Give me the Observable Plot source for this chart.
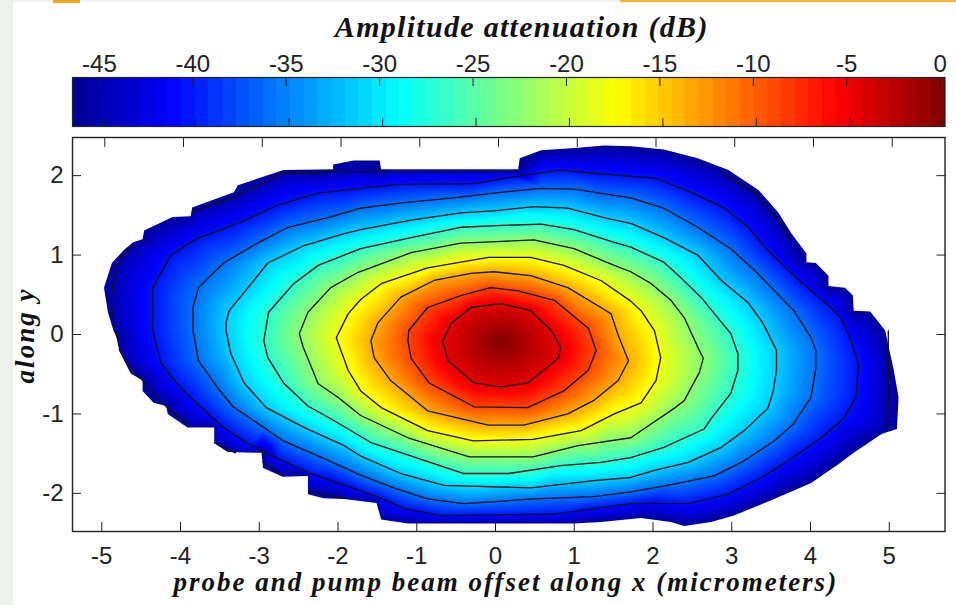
<!DOCTYPE html>
<html><head><meta charset="utf-8">
<script src="https://cdn.jsdelivr.net/npm/d3@7"></script>
<script src="https://cdn.jsdelivr.net/npm/@observablehq/plot@0.6"></script>
<style>
html,body{margin:0;padding:0;background:#fff;width:956px;height:605px;overflow:hidden}
#wrap{position:relative;width:956px;height:605px}
#wrap svg{position:absolute;left:0;background:transparent}
.deco{position:absolute}
.ttl text{letter-spacing:1.3px}
.axl text{letter-spacing:2px}
</style></head><body><div id="wrap">
<div class="deco" style="left:0;top:0;width:13px;height:605px;background:#eef0eb"></div>
<div class="deco" style="left:13px;top:0;width:943px;height:2px;background:#f1f1ee"></div>
<div class="deco" style="left:53px;top:0;width:27px;height:3px;background:#f5a623"></div>
<div class="deco" style="left:620px;top:0;width:336px;height:2px;background:#f9b233"></div>
</div>
<script>
const xDomain = [-5.41, 5.67];
const yDomain = [-2.48, 2.48];
const barDomain = [-46.6, 0.1];
const jetStops = ["#00008f","#0000ff","#00ffff","#ffff00","#ff0000","#800000"];
const jetAt = [0, 0.111, 0.375, 0.625, 0.875, 1];
const barTicks = [-45,-40,-35,-30,-25,-20,-15,-10,-5,0];
const xTicks = [-5,-4,-3,-2,-1,0,1,2,3,4,5];
const yTicks = [-2,-1,0,1,2];
const peak = [0.03,-0.08,0];
const boundaryLevel = -46;
const boundary = [-5.01,.59,-4.91,.90,-4.76,1.06,-4.64,1.16,-4.52,1.20,-4.50,1.31,-4.14,1.48,-3.91,1.49,-3.89,1.60,-3.36,1.79,-3.31,1.88,-2.73,2.07,-2.10,2.08,-2.10,2.14,-1.84,2.19,-1.51,2.19,-1.49,2.08,.25,2.08,.27,2.22,.54,2.32,1.01,2.35,1.34,2.38,1.68,2.37,2.10,2.33,2.53,2.22,2.92,2.07,3.30,1.82,3.55,1.54,3.72,1.27,3.91,1.02,3.91,.91,4.03,.90,4.19,.74,4.19,.61,4.40,.59,4.50,.49,4.51,.30,4.72,.29,4.91,.05,5.02,-.45,5.08,-.79,5.06,-1.19,4.87,-1.25,4.51,-1.49,4.32,-1.63,3.97,-1.87,3.50,-2.07,2.99,-2.28,2.70,-2.36,2.36,-2.41,2.19,-2.36,1.81,-2.31,1.30,-2.36,.96,-2.38,-1.15,-2.38,-1.49,-2.33,-1.55,-2.12,-1.96,-2.07,-2.22,-2.06,-2.42,-2.01,-2.42,-1.78,-2.74,-1.79,-2.99,-1.68,-3.01,-1.49,-3.44,-1.48,-3.61,-1.37,-3.61,-1.17,-3.95,-1.17,-4.20,-1.00,-4.22,-.90,-4.38,-.86,-4.52,-.71,-4.52,-.58,-4.67,-.49,-4.82,-.20,-4.83,-.08,-4.89,.05,-4.96,.28];
const ring1 = [-.71,-.08,-.60,.14,-.35,.34,.03,.39,.41,.30,.67,.05,.79,-.16,.76,-.30,.37,-.61,.03,-.66,-.31,-.61,-.64,-.33];
const ring2 = [-1.15,-.08,-1.14,.05,-.90,.34,-.48,.49,-.10,.59,.25,.55,.71,.43,1.14,.08,1.24,-.20,1.14,-.45,.83,-.71,.37,-.92,-.31,-.91,-.88,-.61,-1.11,-.30];
const ring3 = [-1.62,-.08,-1.53,.15,-1.24,.47,-.82,.68,-.35,.77,-.06,.79,.41,.74,.88,.59,1.30,.34,1.43,.26,1.52,-.01,1.65,-.33,1.52,-.58,1.21,-.83,.88,-1.00,.32,-1.14,-.13,-1.14,-.90,-.96,-1.37,-.58,-1.58,-.29];
const ring4 = [-2.06,-.04,-1.91,.26,-1.75,.44,-1.49,.64,-.90,.84,-.13,.97,.41,.97,.83,.87,1.30,.68,1.68,.42,1.81,.30,1.98,.05,2.06,-.29,2.00,-.58,1.81,-.86,1.47,-1.00,1.05,-1.21,.44,-1.32,-.32,-1.34,-.90,-1.21,-1.49,-.92,-1.75,-.71,-1.91,-.45];
const ring5 = [-2.53,.01,-2.42,.28,-2.13,.59,-1.79,.78,-1.11,1.03,-.48,1.15,-.03,1.17,.45,1.19,.96,1.08,1.47,.87,1.68,.79,1.94,.64,2.19,.43,2.36,.21,2.55,-.20,2.60,-.30,2.55,-.48,2.36,-.83,2.23,-.93,1.68,-1.30,1.01,-1.40,.44,-1.54,-.37,-1.54,-1.15,-1.30,-1.75,-1.02,-2.04,-.79,-2.29,-.62,-2.48,-.16];
const ring6 = [-2.98,-.08,-2.92,.28,-2.60,.64,-2.29,.87,-1.96,1.00,-1.75,1.08,-1.11,1.22,-.48,1.35,-.03,1.37,.54,1.39,.96,1.32,1.47,1.16,1.68,1.10,2.10,.91,2.32,.71,2.57,.47,2.95,.01,3.04,-.24,3.04,-.45,2.95,-.74,2.70,-1.06,2.61,-1.19,2.10,-1.42,1.68,-1.55,1.30,-1.61,.79,-1.65,.13,-1.75,-.44,-1.75,-1.20,-1.50,-1.62,-1.36,-2.13,-1.06,-2.42,-.90,-2.73,-.61,-2.93,-.29];
const ring7 = [-3.46,.15,-3.42,.30,-3.18,.59,-2.93,.90,-2.47,1.12,-1.96,1.27,-1.75,1.32,-1.11,1.44,-.48,1.53,-.03,1.56,.45,1.61,.88,1.59,1.39,1.46,1.68,1.40,2.10,1.22,2.53,1.00,2.83,.68,3.17,.40,3.36,.14,3.53,-.20,3.53,-.45,3.49,-.71,3.42,-.93,3.12,-1.21,2.83,-1.42,2.41,-1.61,1.98,-1.71,1.68,-1.80,1.21,-1.84,.41,-1.93,-.69,-1.90,-1.24,-1.75,-1.75,-1.53,-1.96,-1.40,-2.47,-1.17,-2.95,-.92,-3.23,-.61,-3.40,-.24,-3.46,.05];
const ring8 = [-3.88,.05,-3.88,.34,-3.81,.59,-3.49,.90,-3.06,1.15,-2.67,1.35,-2.13,1.48,-1.75,1.59,-1.20,1.66,-.57,1.72,-.06,1.78,.54,1.84,.96,1.83,1.68,1.72,2.10,1.59,2.53,1.35,2.95,1.08,3.25,.81,3.75,.30,3.97,-.04,4.03,-.20,4.03,-.42,3.97,-.79,3.75,-1.12,3.50,-1.34,3.12,-1.59,2.74,-1.78,2.15,-1.90,1.68,-1.98,1.21,-2.04,.45,-2.07,-.44,-2.13,-.90,-2.07,-1.33,-1.93,-1.75,-1.77,-2.22,-1.56,-2.73,-1.34,-2.98,-1.17,-3.37,-.91,-3.56,-.68,-3.81,-.33];
const ring9 = [-4.39,.05,-4.39,.59,-4.16,1.00,-3.82,1.21,-3.31,1.40,-2.80,1.63,-2.29,1.78,-1.75,1.84,-1.28,1.89,-.31,1.90,.16,1.98,.79,2.07,1.21,2.03,1.68,1.99,1.98,1.97,2.45,1.79,2.87,1.59,3.17,1.35,3.42,1.06,3.84,.66,4.22,.34,4.35,.20,4.48,-.08,4.57,-.37,4.54,-.79,4.39,-1.05,4.10,-1.30,3.68,-1.59,3.34,-1.80,2.92,-2.01,2.41,-2.13,1.68,-2.13,1.30,-2.18,.71,-2.26,-.73,-2.28,-1.20,-2.19,-1.49,-2.06,-1.75,-1.97,-2.38,-1.75,-2.80,-1.56,-3.15,-1.39,-3.49,-1.17,-3.68,-1.00,-3.87,-.83,-4.10,-.60,-4.29,-.35];
const ringLevels = [-4.5,-9,-13.5,-18,-22.5,-27,-31.5,-36,-40.5];
const rings = [ring1,ring2,ring3,ring4,ring5,ring6,ring7,ring8,ring9];
const edgeLevel = -45;
const edgeLeft = [-3.95,-1.12,-4.20,-.93,-4.52,-.58,-4.73,-.35,-4.82,-.14,-4.89,.18,-4.92,.43,-4.89,.68,-4.80,.96,-4.63,1.12];
const edgeTop = [-3.89,1.54,-3.36,1.73,-2.73,2.03,-2.10,2.05,-1.49,2.05,.25,2.05];
const edgeUpperRight = [2.83,2.04,3.25,1.78,3.50,1.50,3.72,1.19];
const edgeRight = [4.95,.05,4.95,-.37,4.96,-.79,4.92,-1.19];
const edgeLow1 = [-3.61,-1.36,-3.34,-1.49];
const edgeLow2 = [-2.99,-1.61,-2.74,-1.77];
const edgeLow3 = [-2.41,-1.97,-1.96,-2.06];
const edges = [edgeLeft,edgeTop,edgeUpperRight,edgeRight,edgeLow1,edgeLow2,edgeLow3];

const pairs = a => d3.range(0, a.length, 2).map(i => ({x:a[i], y:a[i+1]}));
const samples = [{x:peak[0],y:peak[1],v:peak[2]}];
pairs(boundary).forEach(p => samples.push({...p, v:boundaryLevel}));
rings.forEach((r,k) => pairs(r).forEach(p => samples.push({...p, v:ringLevels[k]})));
edges.forEach(r => pairs(r).forEach(p => samples.push({...p, v:edgeLevel})));

const lines = [];
rings.forEach((r,k) => { const p = pairs(r); [...p, p[0]].forEach(q => lines.push({...q, z:"r"+k})); });
edges.forEach((r,k) => pairs(r).forEach(q => lines.push({...q, z:"e"+k})));

const bp = pairs(boundary);
const corners = [
 {x:xDomain[0],y:yDomain[1]},{x:xDomain[0],y:yDomain[0]},{x:xDomain[1],y:yDomain[0]},{x:xDomain[1],y:yDomain[1]},{x:xDomain[0],y:yDomain[1]}
];
const mask = [...corners, ...bp, bp[0], corners[0]];

const color = {type:"linear", domain:jetAt.map(t => barDomain[0] + t*(barDomain[1]-barDomain[0])), range:jetStops, interpolate:"rgb"};
const hy = d => String(d);
const sans = "Liberation Sans, Arial, sans-serif";
const serif = "Liberation Serif, Times New Roman, serif";
const ink = "#222";

const cells = d3.range(64).map(i => {
  const w = (barDomain[1]-barDomain[0])/64;
  return {x1:barDomain[0]+i*w, x2:barDomain[0]+(i+1)*w, v:barDomain[0]+(i+.5)*w};
});

const barPlot = Plot.plot({
  width:956, height:132, marginLeft:72, marginRight:11.5, marginTop:77, marginBottom:6,
  x:{domain:barDomain, axis:null}, y:{axis:null}, color,
  style:{background:"transparent", overflow:"visible"},
  marks:[
    Plot.rect(cells,{x1:"x1",x2:"x2",fill:"v",shapeRendering:"crispEdges"}),
    Plot.frame({stroke:ink,strokeWidth:1.2}),
    Plot.axisX({anchor:"top",ticks:barTicks,tickSize:-8,tickPadding:14,tickFormat:hy,fontSize:24,fontFamily:sans,fill:"#222",stroke:"#222",label:null,dx:-3}),
    Plot.axisX({anchor:"bottom",ticks:barTicks,tickSize:-8,fill:"none",stroke:"#222",label:null}),
    Plot.text(["Amplitude attenuation (dB)"],{frameAnchor:"top",className:"ttl",dx:13,dy:-62,fontSize:30,fontWeight:"bold",fontStyle:"italic",fontFamily:serif,fill:"#111"})
  ]
});
barPlot.style.top="0";
document.getElementById("wrap").append(barPlot);

const mainPlot = Plot.plot({
  width:956, height:475, marginLeft:72, marginRight:11.5, marginTop:7, marginBottom:74,
  x:{domain:xDomain, axis:null}, y:{domain:yDomain, axis:null}, color,
  style:{background:"transparent", overflow:"visible"},
  marks:[
    Plot.raster(samples,{x:"x",y:"y",fill:"v",interpolate:"barycentric",pixelSize:1}),
    Plot.line(mask,{x:"x",y:"y",fill:"white",stroke:"none"}),
    Plot.line(lines,{x:"x",y:"y",z:"z",stroke:"#111",strokeWidth:1.3}),
    Plot.frame({stroke:ink,strokeWidth:1.4}),
    Plot.axisX({anchor:"bottom",ticks:xTicks,tickSize:-9,tickPadding:24,tickFormat:hy,fontSize:24,fontFamily:sans,fill:"#222",stroke:"#222",label:null,dx:-3}),
    Plot.axisX({anchor:"top",ticks:xTicks,tickSize:-9,fill:"none",stroke:"#222",label:null}),
    Plot.axisY({anchor:"left",ticks:yTicks,tickSize:-9,tickPadding:18,tickFormat:hy,fontSize:24,fontFamily:sans,fill:"#222",stroke:"#222",label:null}),
    Plot.axisY({anchor:"right",ticks:yTicks,tickSize:-9,fill:"none",stroke:"#222",label:null}),
    Plot.text(["probe and pump beam offset along x (micrometers)"],{frameAnchor:"bottom",className:"axl",dx:-3,dy:59,fontSize:27,fontWeight:"bold",fontStyle:"italic",fontFamily:serif,fill:"#111"}),
    Plot.text(["along y"],{frameAnchor:"left",className:"axl",textAnchor:"middle",dx:-47,dy:1,rotate:-90,fontSize:27,fontWeight:"bold",fontStyle:"italic",fontFamily:serif,fill:"#111"})
  ]
});
mainPlot.style.top="130px";
document.getElementById("wrap").append(mainPlot);
</script></body></html>
